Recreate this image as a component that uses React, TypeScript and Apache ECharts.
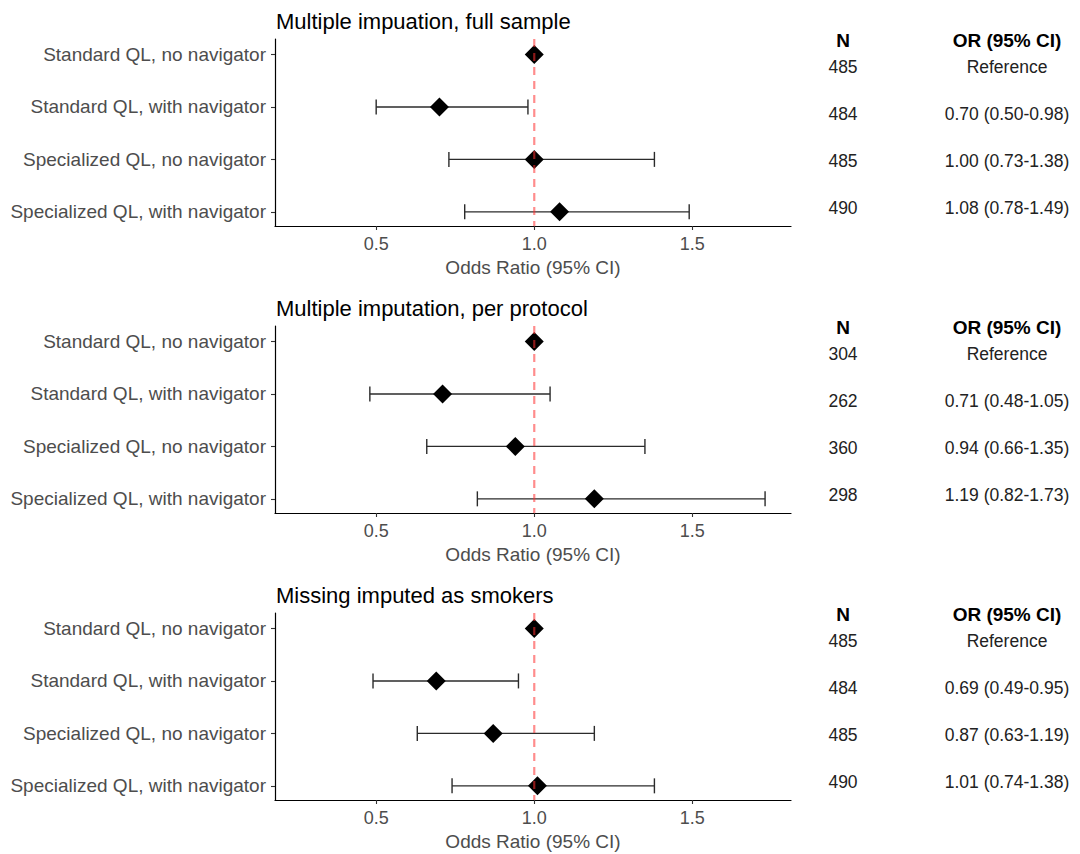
import React, { useEffect, useRef } from "react";
import * as echarts from "echarts";

const categories = [
  "Standard QL, no navigator",
  "Standard QL, with navigator",
  "Specialized QL, no navigator",
  "Specialized QL, with navigator",
];
const panelTitles = [
  "Multiple impuation, full sample",
  "Multiple imputation, per protocol",
  "Missing imputed as smokers",
];
const nFull = [485, 484, 485, 490];
const nProtocol = [304, 262, 360, 298];
const nSmokers = [485, 484, 485, 490];

const orFull = [1.0, 0.7, 1.0, 1.08];
const loFull = [null, 0.5, 0.73, 0.78];
const hiFull = [null, 0.98, 1.38, 1.49];

const orProtocol = [1.0, 0.71, 0.94, 1.19];
const loProtocol = [null, 0.48, 0.66, 0.82];
const hiProtocol = [null, 1.05, 1.35, 1.73];

const orSmokers = [1.0, 0.69, 0.87, 1.01];
const loSmokers = [null, 0.49, 0.63, 0.74];
const hiSmokers = [null, 0.95, 1.19, 1.38];

const xTicks = [0.5, 1.0, 1.5];
const refValue = 1;

const panels = [
  { title: panelTitles[0], n: nFull, or: orFull, lo: loFull, hi: hiFull },
  { title: panelTitles[1], n: nProtocol, or: orProtocol, lo: loProtocol, hi: hiProtocol },
  { title: panelTitles[2], n: nSmokers, or: orSmokers, lo: loSmokers, hi: hiSmokers },
];

const FONT = "'Liberation Sans', Arial, sans-serif";
const GRID_LEFT = 275;
const GRID_WIDTH = 516;
const GRID_HEIGHT = 187;
const TOPS = [39, 326, 613];
const Y_MIN = 0.705;
const Y_MAX = 4.27;
const ROW_OFFSETS = [28, 74.5, 121.5, 168.5];

function orLabel(or: number, lo: number | null, hi: number | null) {
  if (lo == null || hi == null) return "Reference";
  return `${or.toFixed(2)} (${lo.toFixed(2)}-${hi.toFixed(2)})`;
}

export default function App() {
  const ref = useRef<HTMLDivElement>(null);

  useEffect(() => {
    document.body.style.margin = "0";
    if (!ref.current) return;
    const chart = echarts.init(ref.current, null, { renderer: "svg" });

    const grids = panels.map((_, i) => ({
      left: GRID_LEFT,
      width: GRID_WIDTH,
      top: TOPS[i],
      height: GRID_HEIGHT,
      containLabel: false,
      outerBoundsMode: "none",
    }));

    const xAxes = panels.map((_, i) => ({
      type: "value",
      gridIndex: i,
      min: 0.18,
      max: 1.812,
      axisLine: { show: true, lineStyle: { color: "#000", width: 1.2 } },
      axisTick: { show: true, customValues: xTicks, length: 4, lineStyle: { color: "#333", width: 1.1 } },
      axisLabel: {
        customValues: xTicks,
        formatter: (v: number) => v.toFixed(1),
        fontSize: 18,
        color: "#4d4d4d",
        margin: 9,
        fontFamily: FONT,
      },
      splitLine: { show: false },
    }));

    const yAxes = panels.map((_, i) => ({
      type: "value",
      gridIndex: i,
      inverse: true,
      min: Y_MIN,
      max: Y_MAX,
      axisLine: { show: true, lineStyle: { color: "#000", width: 1.2 } },
      axisTick: { show: true, customValues: [1, 2, 3, 4], length: 4, lineStyle: { color: "#333", width: 1.1 } },
      axisLabel: {
        customValues: [1, 2, 3, 4],
        formatter: (v: number) => categories[Math.round(v) - 1] ?? "",
        fontSize: 19,
        color: "#4d4d4d",
        margin: 9,
        fontFamily: FONT,
      },
      splitLine: { show: false },
    }));

    const series: any[] = [];
    panels.forEach((p, i) => {
      const ciData = p.or
        .map((_, k) => (p.lo[k] != null && p.hi[k] != null ? [p.lo[k], p.hi[k], k + 1] : null))
        .filter((d) => d != null);
      series.push({
        type: "custom",
        xAxisIndex: i,
        yAxisIndex: i,
        z: 2,
        data: ciData,
        renderItem: (_params: any, api: any) => {
          const lo = api.value(0);
          const hi = api.value(1);
          const y = api.value(2);
          const a = api.coord([lo, y]);
          const b = api.coord([hi, y]);
          const h = 7.5;
          const style = { stroke: "#2b2b2b", lineWidth: 1.4 };
          return {
            type: "group",
            children: [
              { type: "line", shape: { x1: a[0], y1: a[1], x2: b[0], y2: b[1] }, style },
              { type: "line", shape: { x1: a[0], y1: a[1] - h, x2: a[0], y2: a[1] + h }, style },
              { type: "line", shape: { x1: b[0], y1: b[1] - h, x2: b[0], y2: b[1] + h }, style },
            ],
          };
        },
      });
      series.push({
        type: "scatter",
        xAxisIndex: i,
        yAxisIndex: i,
        z: 3,
        symbol: "diamond",
        symbolSize: [19, 19],
        itemStyle: { color: "#000", opacity: 1 },
        data: p.or.map((v, k) => [v, k + 1]),
      });
      series.push({
        type: "line",
        xAxisIndex: i,
        yAxisIndex: i,
        z: 5,
        symbol: "none",
        silent: true,
        lineStyle: { color: "rgba(255,45,45,0.55)", width: 2.2, type: [8, 6] },
        data: [
          [refValue, Y_MIN],
          [refValue, Y_MAX],
        ],
      });
    });

    const graphics: any[] = [];
    panels.forEach((p, i) => {
      const top = TOPS[i];
      graphics.push({
        type: "text",
        x: GRID_LEFT + 1,
        y: top - 18,
        style: { text: p.title, font: `22px ${FONT}`, fill: "#000", textAlign: "left", textVerticalAlign: "middle" },
      });
      graphics.push({
        type: "text",
        x: GRID_LEFT + GRID_WIDTH / 2,
        y: top + GRID_HEIGHT + 41,
        style: { text: "Odds Ratio (95% CI)", font: `19px ${FONT}`, fill: "#4d4d4d", textAlign: "center", textVerticalAlign: "middle" },
      });
      graphics.push({
        type: "text",
        x: 843,
        y: top + 1,
        style: { text: "N", font: `bold 19px ${FONT}`, fill: "#000", textAlign: "center", textVerticalAlign: "middle" },
      });
      graphics.push({
        type: "text",
        x: 1007,
        y: top + 1,
        style: { text: "OR (95% CI)", font: `bold 19px ${FONT}`, fill: "#000", textAlign: "center", textVerticalAlign: "middle" },
      });
      p.n.forEach((nv, k) => {
        graphics.push({
          type: "text",
          x: 843,
          y: top + ROW_OFFSETS[k],
          style: { text: String(nv), font: `17.5px ${FONT}`, fill: "#222", textAlign: "center", textVerticalAlign: "middle" },
        });
        graphics.push({
          type: "text",
          x: 1007,
          y: top + ROW_OFFSETS[k],
          style: {
            text: orLabel(p.or[k], p.lo[k], p.hi[k]),
            font: `17.5px ${FONT}`,
            fill: "#222",
            textAlign: "center",
            textVerticalAlign: "middle",
          },
        });
      });
    });

    chart.setOption({
      animation: false,
      backgroundColor: "#fff",
      grid: grids,
      xAxis: xAxes,
      yAxis: yAxes,
      series,
      graphic: { elements: graphics },
    } as any);

    return () => chart.dispose();
  }, []);

  return <div ref={ref} style={{ width: 1080, height: 854 }} />;
}
